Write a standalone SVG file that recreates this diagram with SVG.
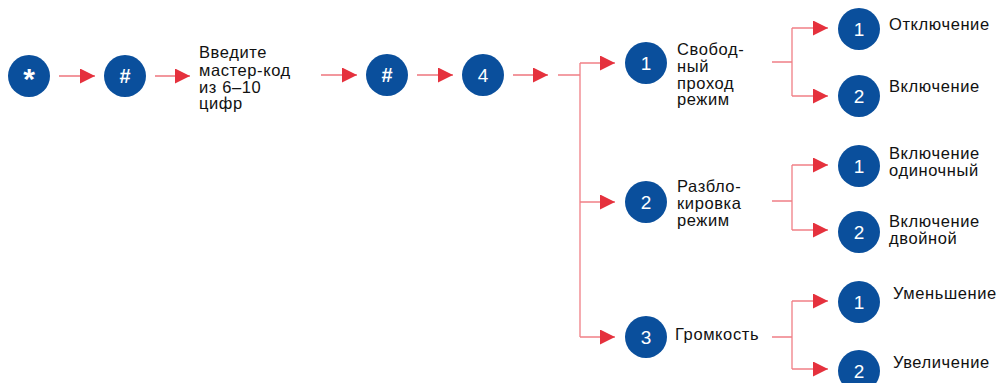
<svg xmlns="http://www.w3.org/2000/svg" width="1004" height="383" viewBox="0 0 1004 383">
<style>
.n circle{fill:#0a4f9c}
.n text.d{fill:#fff;font-family:"Liberation Sans",Arial,sans-serif;font-size:19px;text-anchor:middle}
.n text.b{font-weight:bold;font-size:20px}
.n text.s{font-weight:bold;font-size:30px}
.t{fill:#111;font-family:"Liberation Sans",Arial,sans-serif;font-size:16.5px;letter-spacing:0.6px}
.a{stroke:#e5313d;stroke-width:1.2;fill:none}
.l{stroke:#f07f86;stroke-width:1.3;fill:none}
</style>
<defs>
<marker id="ah" markerUnits="userSpaceOnUse" markerWidth="16" markerHeight="16" refX="15" refY="7.5" orient="auto">
<path d="M0,0 L15,7.5 L0,15 z" fill="#e5313d"/>
</marker>
</defs>
<rect width="1004" height="383" fill="#fff"/>
<g id="connectors">
<line class="a" x1="59" y1="76" x2="95" y2="76" marker-end="url(#ah)"/>
<line class="a" x1="155" y1="76" x2="190" y2="76" marker-end="url(#ah)"/>
<line class="a" x1="321" y1="75" x2="357" y2="75" marker-end="url(#ah)"/>
<line class="a" x1="417" y1="75" x2="453" y2="75" marker-end="url(#ah)"/>
<line class="a" x1="513" y1="75" x2="548" y2="75" marker-end="url(#ah)"/>
<path class="l" d="M558,75 H580 M580,63 V337"/>
<path class="l" d="M580,63 H615" marker-end="url(#ah)"/>
<path class="l" d="M580,202 H615" marker-end="url(#ah)"/>
<path class="l" d="M580,337 H615" marker-end="url(#ah)"/>
<path class="l" d="M772,62 H792 M792,28 V96 M772,201 H792 M792,165 V230 M772,337 H792 M792,301 V369"/>
<path class="l" d="M792,28 H828" marker-end="url(#ah)"/>
<path class="l" d="M792,96 H828" marker-end="url(#ah)"/>
<path class="l" d="M792,165 H828" marker-end="url(#ah)"/>
<path class="l" d="M792,230 H828" marker-end="url(#ah)"/>
<path class="l" d="M792,301 H828" marker-end="url(#ah)"/>
<path class="l" d="M792,369 H828" marker-end="url(#ah)"/>
</g>
<g id="star" class="n"><circle cx="29" cy="76" r="21"/><text class="d s" x="29" y="89">*</text></g>
<g id="hash1" class="n"><circle cx="125" cy="76" r="21"/><text class="d b" x="125" y="83">#</text></g>
<g id="code"><text class="t" x="199" y="58">Введите</text><text class="t" x="199" y="75.5">мастер-код</text><text class="t" x="199" y="92.5">из 6–10</text><text class="t" x="199" y="109">цифр</text></g>
<g id="hash2" class="n"><circle cx="387" cy="75" r="21"/><text class="d b" x="387" y="82">#</text></g>
<g id="four" class="n"><circle cx="483" cy="75" r="21"/><text class="d" x="483" y="82">4</text></g>
<g id="m1" class="n"><circle cx="646" cy="63" r="21"/><text class="d" x="646" y="70">1</text>
<text class="t" x="677" y="54.5">Свобод-</text><text class="t" x="677" y="72">ный</text><text class="t" x="677" y="88.5">проход</text><text class="t" x="677" y="105">режим</text></g>
<g id="m2" class="n"><circle cx="646" cy="202" r="21"/><text class="d" x="646" y="209">2</text>
<text class="t" x="677" y="192">Разбло-</text><text class="t" x="677" y="209">кировка</text><text class="t" x="677" y="226">режим</text></g>
<g id="m3" class="n"><circle cx="646" cy="337" r="21"/><text class="d" x="646" y="344">3</text>
<text class="t" x="675" y="340">Громкость</text></g>
<g id="s11" class="n"><circle cx="859" cy="29" r="21"/><text class="d" x="859" y="36">1</text><text class="t" x="889" y="30">Отключение</text></g>
<g id="s12" class="n"><circle cx="859" cy="96" r="21"/><text class="d" x="859" y="103">2</text><text class="t" x="889" y="92">Включение</text></g>
<g id="s21" class="n"><circle cx="859" cy="166" r="21"/><text class="d" x="859" y="173">1</text><text class="t" x="889" y="159">Включение</text><text class="t" x="889" y="176">одиночный</text></g>
<g id="s22" class="n"><circle cx="859" cy="232" r="21"/><text class="d" x="859" y="239">2</text><text class="t" x="889" y="227">Включение</text><text class="t" x="889" y="244">двойной</text></g>
<g id="s31" class="n"><circle cx="859" cy="302" r="21"/><text class="d" x="859" y="309">1</text><text class="t" x="893" y="299">Уменьшение</text></g>
<g id="s32" class="n"><circle cx="859" cy="371" r="21"/><text class="d" x="859" y="378">2</text><text class="t" x="893" y="368">Увеличение</text></g>
</svg>
